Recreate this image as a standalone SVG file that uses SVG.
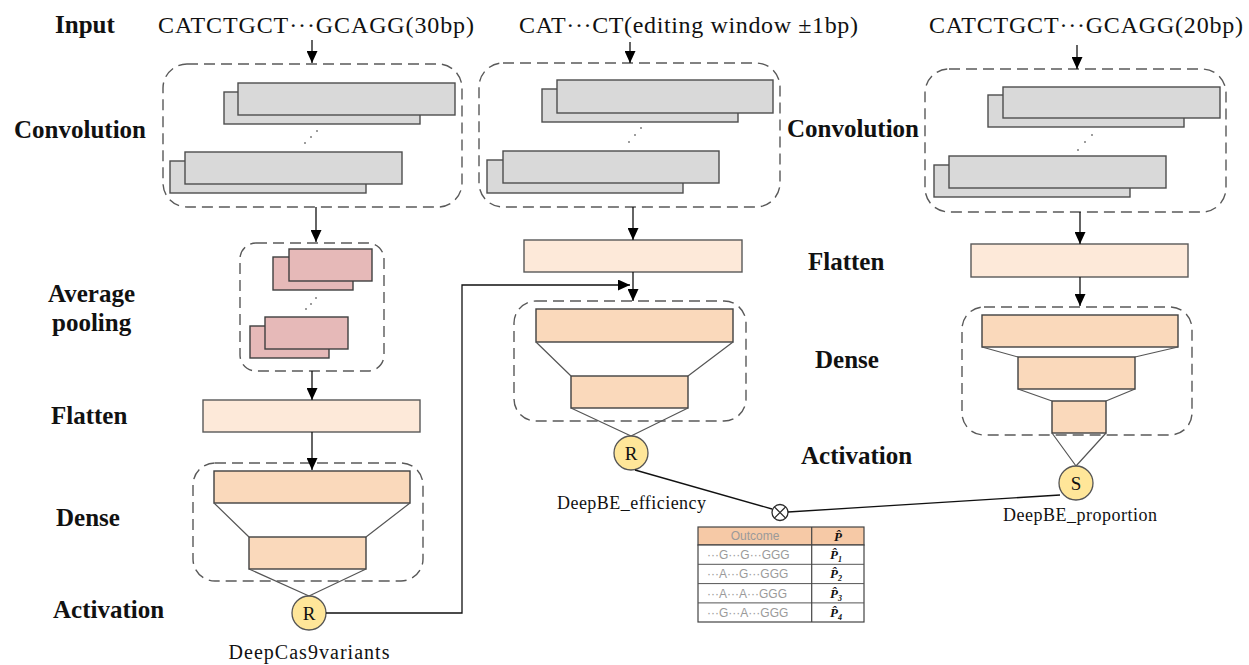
<svg xmlns="http://www.w3.org/2000/svg" width="1249" height="665" viewBox="0 0 1249 665">
<defs>
<marker id="ah" markerUnits="userSpaceOnUse" markerWidth="12" markerHeight="11" refX="12" refY="5.5" viewBox="0 0 12 11" orient="auto">
<path d="M0,0 L12,5.5 L0,11 z" fill="#000"/>
</marker>
<style>
.lbl{font-family:"Liberation Serif","Times New Roman",serif;font-weight:bold;font-size:25px;fill:#111}
.seq{font-family:"Liberation Serif","Times New Roman",serif;font-size:24px;fill:#111}
.name{font-family:"Liberation Serif","Times New Roman",serif;font-size:18px;fill:#111}
.dash{fill:none;stroke:#595959;stroke-width:1.4;stroke-dasharray:11 6}
.conv{fill:#d9d9d9;stroke:#4d4d4d;stroke-width:1.4}
.pool{fill:#e6b9b8;stroke:#3f3f3f;stroke-width:1.4}
.flat{fill:#fde9d9;stroke:#595959;stroke-width:1.4}
.dense{fill:#fad9bb;stroke:#404040;stroke-width:1.4}
.fun{fill:none;stroke:#555;stroke-width:1.2}
.act{fill:#ffe699;stroke:#555;stroke-width:1.3}
.actt{font-family:"Liberation Serif","Times New Roman",serif;font-size:19px;fill:#111;text-anchor:middle}
.con{fill:none;stroke:#111;stroke-width:1.3}
.dot{fill:#222}
.tb{fill:#fff;stroke:#444;stroke-width:1.2}
.tbt{font-family:"Liberation Sans",Arial,sans-serif;font-size:12px;fill:#9a9a9a}
.ph{font-family:"Liberation Serif","Times New Roman",serif;font-size:13px;font-weight:bold;font-style:italic;fill:#111;text-anchor:middle}
</style>
</defs>

<g id="labels-left">
<text class="lbl" x="55" y="33">Input</text>
<text class="lbl" x="14" y="138">Convolution</text>
<text class="lbl" x="48" y="302">Average</text>
<text class="lbl" x="52" y="331">pooling</text>
<text class="lbl" x="51" y="424">Flatten</text>
<text class="lbl" x="56" y="526">Dense</text>
<text class="lbl" x="53" y="618">Activation</text>
</g>
<g id="labels-right">
<text class="lbl" x="787" y="137">Convolution</text>
<text class="lbl" x="808" y="270">Flatten</text>
<text class="lbl" x="815" y="368">Dense</text>
<text class="lbl" x="801" y="464">Activation</text>
</g>

<g id="input-left"><text class="seq" x="158" y="33" textLength="316">CATCTGCT···GCAGG(30bp)</text></g>
<g id="input-mid"><text class="seq" x="519" y="33" textLength="339">CAT···CT(editing window ±1bp)</text></g>
<g id="input-right"><text class="seq" x="929" y="33" textLength="314">CATCTGCT···GCAGG(20bp)</text></g>

<g id="conv-left">
<rect class="dash" x="163" y="64" width="299" height="143" rx="24"/>
<rect class="conv" x="224" y="92" width="196" height="32"/>
<rect class="conv" x="238" y="83" width="217" height="32"/>
<rect class="conv" x="170" y="161" width="196" height="32"/>
<rect class="conv" x="185" y="152" width="217" height="32"/>
<circle class="dot" cx="305" cy="143" r="0.8"/><circle class="dot" cx="311" cy="137" r="0.8"/><circle class="dot" cx="317" cy="131" r="0.8"/>
</g>

<g id="pool-left">
<rect class="dash" x="240" y="243" width="144" height="128" rx="16"/>
<rect class="pool" x="273" y="257" width="80" height="33"/>
<rect class="pool" x="289" y="249" width="83" height="32"/>
<rect class="pool" x="250" y="326" width="79" height="32"/>
<rect class="pool" x="265" y="317" width="83" height="32"/>
<circle class="dot" cx="306" cy="309" r="0.8"/><circle class="dot" cx="311" cy="304" r="0.8"/><circle class="dot" cx="316" cy="298" r="0.8"/>
</g>

<g id="flatten-left"><rect class="flat" x="203" y="400" width="217" height="32"/></g>

<g id="dense-left">
<rect class="dash" x="193" y="463" width="230" height="118" rx="22"/>
<rect class="dense" x="214" y="471" width="196" height="32"/>
<rect class="dense" x="249" y="537" width="117" height="32"/>
<path class="fun" d="M214,503 L249,537 M410,503 L366,537 M249,569 L309,596 M366,569 L309,596"/>
</g>
<g id="act-left">
<circle class="act" cx="309" cy="613" r="17"/>
<text class="actt" x="309" y="620">R</text>
<text class="name" x="309" y="659" text-anchor="middle" textLength="161" style="font-size:20px">DeepCas9variants</text>
</g>

<g id="conv-mid">
<rect class="dash" x="479" y="63" width="301" height="144" rx="24"/>
<rect class="conv" x="542" y="89" width="196" height="33"/>
<rect class="conv" x="557" y="80" width="216" height="33"/>
<rect class="conv" x="487" y="160" width="196" height="33"/>
<rect class="conv" x="503" y="151" width="216" height="32"/>
<circle class="dot" cx="629" cy="142" r="0.8"/><circle class="dot" cx="635" cy="135" r="0.8"/><circle class="dot" cx="641" cy="128" r="0.8"/>
</g>

<g id="flatten-mid"><rect class="flat" x="524" y="240" width="218" height="32"/></g>

<g id="dense-mid">
<rect class="dash" x="514" y="301" width="232" height="120" rx="22"/>
<rect class="dense" x="536" y="309" width="197" height="33"/>
<rect class="dense" x="571" y="376" width="117" height="32"/>
<path class="fun" d="M536,342 L571,376 M733,342 L688,376 M571,408 L631,436 M688,408 L631,436"/>
</g>
<g id="act-mid">
<circle class="act" cx="631" cy="453" r="17"/>
<text class="actt" x="631" y="460">R</text>
<text class="name" x="557" y="509" textLength="149">DeepBE_efficiency</text>
</g>

<g id="conv-right">
<rect class="dash" x="925" y="69" width="301" height="143" rx="24"/>
<rect class="conv" x="988" y="95" width="196" height="32"/>
<rect class="conv" x="1003" y="87" width="217" height="31"/>
<rect class="conv" x="934" y="165" width="196" height="32"/>
<rect class="conv" x="949" y="156" width="217" height="32"/>
<circle class="dot" cx="1078" cy="150" r="0.8"/><circle class="dot" cx="1085" cy="142" r="0.8"/><circle class="dot" cx="1092" cy="135" r="0.8"/>
</g>

<g id="flatten-right"><rect class="flat" x="971" y="244" width="217" height="33"/></g>

<g id="dense-right">
<rect class="dash" x="962" y="307" width="230" height="128" rx="22"/>
<rect class="dense" x="982" y="315" width="196" height="32"/>
<rect class="dense" x="1018" y="357" width="117" height="32"/>
<rect class="dense" x="1052" y="401" width="54" height="32"/>
<path class="fun" d="M982,347 L1018,357 M1178,347 L1135,357 M1018,389 L1052,401 M1135,389 L1106,401 M1052,433 L1076,466 M1106,433 L1076,466"/>
</g>
<g id="act-right">
<circle class="act" cx="1076" cy="483" r="17"/>
<text class="actt" x="1076" y="490">S</text>
<text class="name" x="1003" y="521" textLength="154">DeepBE_proportion</text>
</g>

<g id="multiply">
<circle cx="780" cy="512.5" r="8" fill="#fff" stroke="#2a2a2a" stroke-width="1.3"/>
<path d="M774.4,506.9 L785.6,518.1 M785.6,506.9 L774.4,518.1" stroke="#2a2a2a" stroke-width="1.3"/>
</g>

<g id="outcome-table">
<rect x="698" y="527" width="166" height="18" fill="#f6c9a6" stroke="#444" stroke-width="1.2"/>
<rect class="tb" x="698" y="545" width="166" height="77"/>
<path d="M698,564.3 H864 M698,583.6 H864 M698,602.9 H864" stroke="#555" stroke-width="1"/>
<path d="M811.7,527 V622" stroke="#444" stroke-width="1.2"/>
<text class="tbt" x="755" y="540" text-anchor="middle">Outcome</text>
<text class="ph" x="838" y="541">P̂</text>
<text class="tbt" x="707" y="559">···G···G···GGG</text>
<text class="tbt" x="707" y="578">···A···G···GGG</text>
<text class="tbt" x="707" y="598">···A···A···GGG</text>
<text class="tbt" x="707" y="617">···G···A···GGG</text>
<text class="ph" x="836" y="559">P̂<tspan font-size="8" dy="3">1</tspan></text>
<text class="ph" x="836" y="578">P̂<tspan font-size="8" dy="3">2</tspan></text>
<text class="ph" x="836" y="598">P̂<tspan font-size="8" dy="3">3</tspan></text>
<text class="ph" x="836" y="617">P̂<tspan font-size="8" dy="3">4</tspan></text>
</g>

<g id="connectors">
<path class="con" d="M312,40 V63" marker-end="url(#ah)"/>
<path class="con" d="M316,207 V242" marker-end="url(#ah)"/>
<path class="con" d="M312,371 V400" marker-end="url(#ah)"/>
<path class="con" d="M312,432 V470" marker-end="url(#ah)"/>
<path class="con" d="M326,613 H462 V285 H630" marker-end="url(#ah)"/>
<path class="con" d="M630,42 V63" marker-end="url(#ah)"/>
<path class="con" d="M633,207 V240" marker-end="url(#ah)"/>
<path class="con" d="M633,272 V301" marker-end="url(#ah)"/>
<path class="con" d="M635,470 L772,509"/>
<path class="con" d="M788,512 L1060,495"/>
<path class="con" d="M1077,45 V69" marker-end="url(#ah)"/>
<path class="con" d="M1080,212 V244" marker-end="url(#ah)"/>
<path class="con" d="M1080,277 V306" marker-end="url(#ah)"/>
</g>
</svg>
